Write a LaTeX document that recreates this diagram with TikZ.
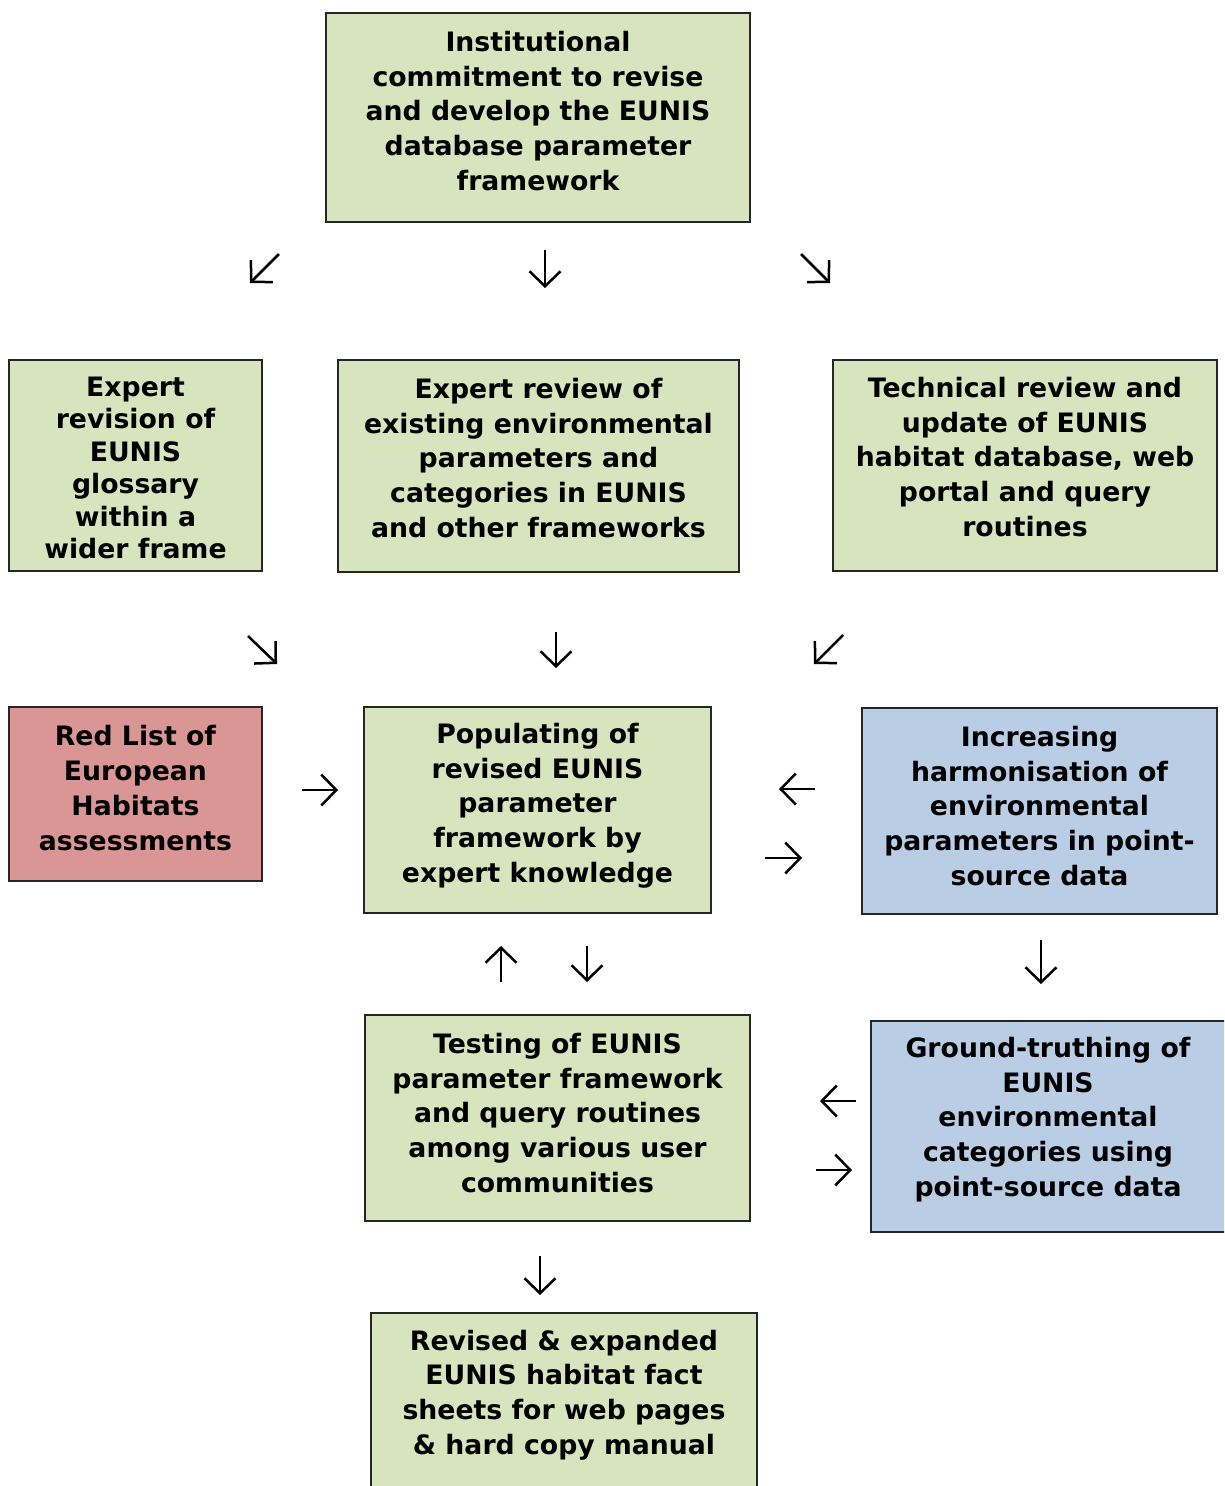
\documentclass[tikz,border=0pt]{standalone}
\usepackage{fontspec}
\setmainfont{DejaVu Sans}
\usetikzlibrary{arrows.meta}
\definecolor{gfill}{HTML}{D7E4BD}
\definecolor{rfill}{HTML}{D99694}
\definecolor{bfill}{HTML}{B9CDE5}
\tikzset{
  boxshape/.style={draw=black!85, line width=1.5pt, rectangle, inner sep=0pt},
  gbox/.style={boxshape, fill=gfill},
  rbox/.style={boxshape, fill=rfill},
  bbox/.style={boxshape, fill=bfill},
  txt/.style={align=center, inner sep=0pt, font=\bfseries\fontsize{26.7}{34.7}\selectfont},
  txtsmall/.style={align=center, inner sep=0pt, font=\bfseries\fontsize{26.7}{32.5}\selectfont},
  arr/.style={line width=2.5pt, -{Straight Barb[length=15pt, width=31pt, line width=2.5pt]}},
}
\begin{document}
\begin{tikzpicture}[x=1pt, y=-1pt]
\clip (0,0) rectangle (1224,1486);
\useasboundingbox (0,0) rectangle (1224,1486);
\fill[white] (0,0) rectangle (1224,1486);

% boxes
\node[gbox, minimum width=424, minimum height=209] (top) at (538,117.5) {};
\node[gbox, minimum width=253, minimum height=211] (left) at (135.5,465.5) {};
\node[gbox, minimum width=401, minimum height=212] (mid) at (538.5,466) {};
\node[gbox, minimum width=384, minimum height=211] (right) at (1025,465.5) {};
\node[rbox, minimum width=253, minimum height=174] (red) at (135.5,794) {};
\node[gbox, minimum width=347, minimum height=206] (pop) at (537.5,810) {};
\node[bbox, minimum width=355, minimum height=206] (harm) at (1039.5,811) {};
\node[gbox, minimum width=385, minimum height=206] (test) at (557.5,1118) {};
\node[bbox, minimum width=355, minimum height=211] (ground) at (1048.5,1126.5) {};
\node[gbox, minimum width=386, minimum height=187] (rev) at (564,1406.5) {};

% texts
\node[txt] (topT) at (538,111) {Institutional\\commitment to revise\\and develop the EUNIS\\database parameter\\framework};
\node[txtsmall] (leftT) at (135.5,468) {Expert\\revision of\\EUNIS\\glossary\\within a\\wider frame};
\node[txt] (midT) at (538.5,458) {Expert review of\\existing environmental\\parameters and\\categories in EUNIS\\and other frameworks};
\node[txt] (rightT) at (1025,457) {Technical review and\\update of EUNIS\\habitat database, web\\portal and query\\routines};
\node[txt] (redT) at (135.5,788) {Red List of\\European\\Habitats\\assessments};
\node[txt] (popT) at (537.5,805.5) {Populating of\\revised EUNIS\\parameter\\framework by\\expert knowledge};
\node[txt] (harmT) at (1039.5,806) {Increasing\\harmonisation of\\environmental\\parameters in point-\\source data};
\node[txt] (testT) at (557.5,1113) {Testing of EUNIS\\parameter framework\\and query routines\\among various user\\communities};
\node[txt] (groundT) at (1048,1119.5) {Ground-truthing of\\EUNIS\\environmental\\categories using\\point-source data};
\node[txt] (revT) at (564,1395) {Revised \& expanded\\EUNIS habitat fact\\sheets for web pages\\\& hard copy manual};

% arrow end points
\coordinate (a1s) at (279,254);  \coordinate (a1e) at (250,283);
\coordinate (a2s) at (545,250);  \coordinate (a2e) at (545,288);
\coordinate (a3s) at (801,254);  \coordinate (a3e) at (830,283);
\coordinate (a4s) at (248,636);  \coordinate (a4e) at (277,664);
\coordinate (a5s) at (556,632);  \coordinate (a5e) at (556,668);
\coordinate (a6s) at (843,635);  \coordinate (a6e) at (814,664);
\coordinate (a7s) at (302,790);  \coordinate (a7e) at (338,790);
\coordinate (a8s) at (815,789);  \coordinate (a8e) at (779,789);
\coordinate (a9s) at (765,858);  \coordinate (a9e) at (802,858);
\coordinate (a10s) at (501,982); \coordinate (a10e) at (501,946);
\coordinate (a11s) at (587,946); \coordinate (a11e) at (587,982);
\coordinate (a12s) at (1041,940); \coordinate (a12e) at (1041,984);
\coordinate (a13s) at (856,1101); \coordinate (a13e) at (820,1101);
\coordinate (a14s) at (816,1170); \coordinate (a14e) at (852,1170);
\coordinate (a15s) at (540,1256); \coordinate (a15e) at (540,1295);

\foreach \i in {1,...,15} { \draw[arr] (a\i s) -- (a\i e); }
\end{tikzpicture}
\end{document}
